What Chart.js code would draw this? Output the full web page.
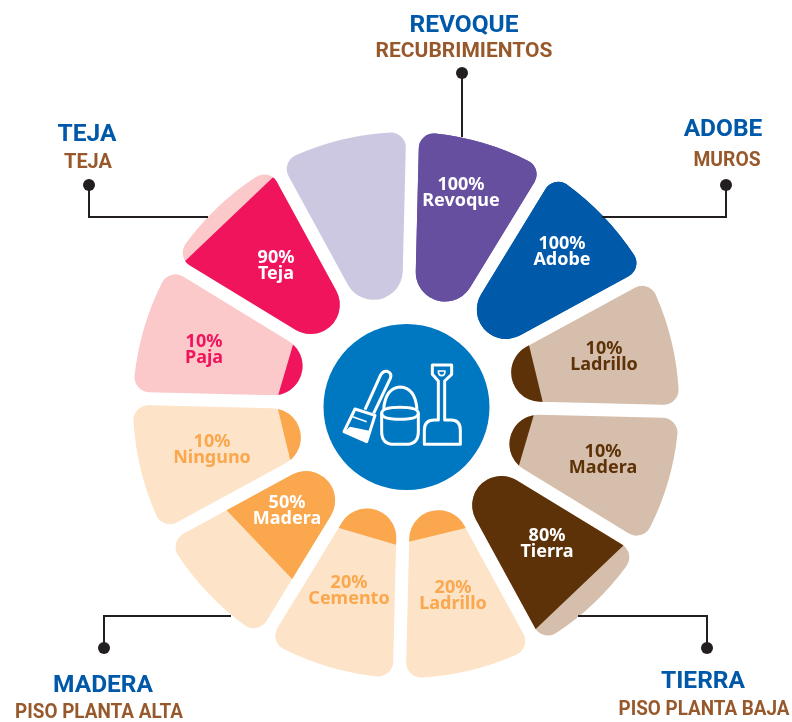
<!DOCTYPE html>
<html>
<head>
<meta charset="utf-8">
<title>Materiales de construcción</title>
<style>
    html, body { margin: 0; padding: 0; background: #fff; }
    #wrap { width: 792px; height: 722px; }
</style>
</head>
<body>
<div id="wrap"><canvas id="chart" width="792" height="722"></canvas></div>
<script src="https://cdn.jsdelivr.net/npm/chart.js@4/dist/chart.umd.min.js"></script>
<script>
const categories = ['Revoque', 'Adobe', 'Ladrillo', 'Madera', 'Tierra', 'Ladrillo', 'Cemento', 'Madera', 'Ninguno', 'Paja', 'Teja', ''];
const percents = [100, 100, 10, 10, 80, 20, 20, 50, 10, 10, 90, null];
// how far each dark part reaches along its petal (0 = inner end, 100 = rim)
const fillDepth = [100, 100, 15, 10, 87, 15, 17, 57, 10, 10, 90, 0];
const petalFull = [100, 100, 100, 100, 100, 100, 100, 100, 100, 100, 100, 100];

const darkColors = ['#674fa0', '#0059a9', '#5e3208', '#5e3208', '#5e3208', '#faa74d', '#faa74d', '#faa74d', '#faa74d', '#f0145d', '#f0145d', '#cdc8e1'];
const lightColors = ['#674fa0', '#0059a9', '#d5bfac', '#d5bfac', '#d5bfac', '#fde3c8', '#fde3c8', '#fde3c8', '#fde3c8', '#fbc9c9', '#fbc9c9', '#cdc8e1'];
const textColors = ['#fff', '#fff', '#5e3208', '#5e3208', '#fff', '#faa74d', '#faa74d', '#fff', '#faa74d', '#f0145d', '#fff', '#fff'];
const labelAt = [[461, 185], [562, 244], [604, 349], [603, 452], [547, 536], [453, 588], [349, 583], [287, 503], [212, 442], [204, 342], [276, 258], null];

const groups = [
    {title: 'REVOQUE', sub: 'RECUBRIMIENTOS', tx: 464, ty: 32, sx: 464, sy: 57, sw: 177, line: [[462, 73], [462, 137]]},
    {title: 'ADOBE', sub: 'MUROS', tx: 723, ty: 136, sx: 727, sy: 166, sw: 67, line: [[726, 185], [726, 217], [602, 217]]},
    {title: 'TEJA', sub: 'TEJA', tx: 87, ty: 141, sx: 88, sy: 168, sw: 48, line: [[89, 185], [89, 217], [208, 217]]},
    {title: 'MADERA', sub: 'PISO PLANTA ALTA', tx: 103, ty: 692, sx: 99, sy: 718, sw: 168, line: [[104, 648], [104, 616], [231, 616]]},
    {title: 'TIERRA', sub: 'PISO PLANTA BAJA', tx: 703, ty: 688, sx: 704, sy: 715, sw: 171, line: [[707, 648], [707, 616], [578, 616]]}
];

const GAP = 13, RIM_CORNER = 15;

// arc whose sides run parallel to the neighbours, with a round cap at the inner end
class PetalElement extends Chart.ArcElement {
    draw(ctx) {
        const half = (this.endAngle - this.startAngle) / 2,
            mid = this.startAngle + half,
            R = this.fullRadius,
            sinH = Math.sin(half),
            cap = (this.innerRadius * sinH - GAP / 2) / (1 - sinH),
            capX = this.innerRadius + cap,
            phi = half - Math.asin((RIM_CORNER + GAP / 2) / (R - RIM_CORNER)),
            cx = (R - RIM_CORNER) * Math.cos(phi),
            cy = (R - RIM_CORNER) * Math.sin(phi);

        ctx.save();
        ctx.translate(this.x, this.y);
        ctx.rotate(mid);

        if (this.outerRadius < R) {
            ctx.beginPath();
            ctx.rect(-2 * R, -2 * R, 2 * R + this.outerRadius, 4 * R);
            ctx.clip();
        }

        ctx.beginPath();
        ctx.arc(0, 0, R, -phi, phi);
        ctx.arc(cx, cy, RIM_CORNER, phi, half + Math.PI / 2);
        ctx.arc(capX, 0, cap, half + Math.PI / 2, 1.5 * Math.PI - half);
        ctx.arc(cx, -cy, RIM_CORNER, -half - Math.PI / 2, -phi);
        ctx.closePath();
        ctx.fillStyle = this.options.backgroundColor;
        ctx.fill();
        ctx.restore();
    }
}
PetalElement.id = 'petal';
PetalElement.defaults = Chart.ArcElement.defaults;

class PetalController extends Chart.PolarAreaController {
    updateElement(element, index, properties, mode) {
        const scale = this.chart.scales.r;
        properties.innerRadius = scale.getDistanceFromCenterForValue(0);
        properties.fullRadius = scale.getDistanceFromCenterForValue(100);
        super.updateElement(element, index, properties, mode);
    }
}
PetalController.id = 'petal';
PetalController.defaults = Object.assign({}, Chart.PolarAreaController.defaults, {dataElementType: 'petal'});

Chart.register(PetalElement, PetalController);

const HUB = {x: 406.5, y: 407, r: 83};

const hubIcon = [
    'M352 180H410V208L389 228V345H408Q436 345 436 375V418H328V375Q328 345 358 345H370V228L352 208Z',
    'M200 325V380Q200 418 238 418H272Q310 418 310 380V325',
    'M200 325Q200 307 255 307Q310 307 310 325Q310 343 255 343Q200 343 200 325Z',
    'M206 312Q212 248 256 246Q300 248 306 312',
    'M150 314L196 212Q203 197 217 199Q232 205 226 220L176 325',
    'M120 312L180 331L155 410L87 380Z'
];
const hubIconSolid = [
    'M105 365L163 377L155 410L87 380Z'
];

const overlays = {
    id: 'overlays',
    afterDraw(chart) {
        const ctx = chart.ctx;

        // hub
        ctx.save();
        ctx.fillStyle = '#0078c1';
        ctx.beginPath();
        ctx.arc(HUB.x, HUB.y, HUB.r, 0, Math.PI * 2);
        ctx.fill();
        ctx.translate(315, 305);
        ctx.scale(1 / 3, 1 / 3);
        ctx.strokeStyle = '#fff';
        ctx.fillStyle = '#fff';
        ctx.lineWidth = 9;
        ctx.lineJoin = 'round';
        hubIcon.forEach(d => ctx.stroke(new Path2D(d)));
        hubIconSolid.forEach(d => ctx.fill(new Path2D(d)));
        ctx.lineWidth = 5;
        ctx.stroke(new Path2D('M113 335L155 350'));
        ctx.stroke(new Path2D('M370 198H390Q390 212 380 212Q370 212 370 198Z'));
        ctx.restore();

        // leader lines and headings
        ctx.save();
        ctx.textAlign = 'center';
        ctx.textBaseline = 'alphabetic';
        groups.forEach(g => {
            ctx.strokeStyle = '#231f20';
            ctx.lineWidth = 2;
            ctx.beginPath();
            g.line.forEach((p, i) => i ? ctx.lineTo(p[0], p[1]) : ctx.moveTo(p[0], p[1]));
            ctx.stroke();
            ctx.fillStyle = '#231f20';
            ctx.beginPath();
            ctx.arc(g.line[0][0], g.line[0][1], 6, 0, Math.PI * 2);
            ctx.fill();

            ctx.fillStyle = '#0058a9';
            ctx.font = '700 24.5px Roboto';
            ctx.fillText(g.title, g.tx, g.ty);
            ctx.fillStyle = '#97592b';
            ctx.font = '700 21px Roboto';
            ctx.fillText(g.sub, g.sx, g.sy, g.sw);
        });

        // petal labels
        ctx.textBaseline = 'middle';
        ctx.font = '700 18px "Noto Sans"';
        categories.forEach((name, i) => {
            if (!labelAt[i]) {
                return;
            }
            ctx.fillStyle = textColors[i];
            ctx.fillText(percents[i] + '%', labelAt[i][0], labelAt[i][1]);
            ctx.fillText(name, labelAt[i][0], labelAt[i][1] + 15.5);
        });
        ctx.restore();
    }
};

new Chart(document.getElementById('chart'), {
    type: 'petal',
    data: {
        labels: categories,
        datasets: [
            {data: fillDepth, backgroundColor: darkColors},
            {data: petalFull, backgroundColor: lightColors}
        ]
    },
    options: {
        responsive: false,
        animation: false,
        events: [],
        layout: {padding: {left: 133, right: 113, top: 132, bottom: 44}},
        scales: {
            r: {
                min: -66.5,
                max: 100,
                startAngle: 1.4,
                ticks: {display: false},
                grid: {display: false},
                angleLines: {display: false},
                pointLabels: {display: false}
            }
        },
        plugins: {legend: {display: false}, tooltip: {enabled: false}}
    },
    plugins: [overlays]
});
</script>
</body>
</html>
